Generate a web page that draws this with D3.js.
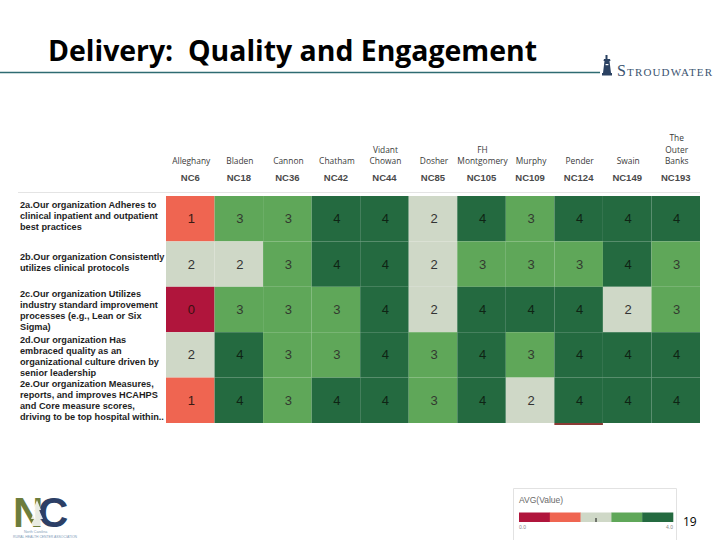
<!DOCTYPE html>
<html>
<head>
<meta charset="utf-8">
<script src="https://cdn.jsdelivr.net/npm/d3@7"></script>
<style>
  html, body { margin: 0; padding: 0; background: #ffffff; }
  svg { display: block; }
</style>
</head>
<body>
<svg id="chart" width="720" height="540"></svg>
<script>
// ---------- DATA ----------
const hospitalNames = [["Alleghany"], ["Bladen"], ["Cannon"], ["Chatham"], ["Vidant", "Chowan"],
  ["Dosher"], ["FH", "Montgomery"], ["Murphy"], ["Pender"], ["Swain"], ["The", "Outer", "Banks"]];
const hospitalCodes = ["NC6", "NC18", "NC36", "NC42", "NC44", "NC85", "NC105", "NC109", "NC124", "NC149", "NC193"];
const questionIds = ["2a", "2b", "2c", "2d", "2e"];
const questionLabels = [
  ["2a.Our organization Adheres to", "clinical inpatient and outpatient", "best practices"],
  ["2b.Our organization Consistently", "utilizes clinical protocols"],
  ["2c.Our organization Utilizes", "industry standard improvement", "processes (e.g., Lean or Six", "Sigma)"],
  ["2d.Our organization Has", "embraced quality as an", "organizational culture driven by", "senior leadership"],
  ["2e.Our organization Measures,", "reports, and improves HCAHPS", "and Core measure scores,", "driving to be top hospital within.."]
];
const values2a = [1, 3, 3, 4, 4, 2, 4, 3, 4, 4, 4];
const values2b = [2, 2, 3, 4, 4, 2, 3, 3, 3, 4, 3];
const values2c = [0, 3, 3, 3, 4, 2, 4, 4, 4, 2, 3];
const values2d = [2, 4, 3, 3, 4, 3, 4, 3, 4, 4, 4];
const values2e = [1, 4, 3, 4, 4, 3, 4, 2, 4, 4, 4];
const legendLevels = [0, 1, 2, 3, 4];
const legendTickLabels = ["0.0", "4.0"];
const titleText = "Delivery:  Quality and Engagement";
const pageNumber = "19";

// ---------- BUILD ----------
const allValues = [values2a, values2b, values2c, values2d, values2e];
const cells = [];
questionIds.forEach((q, i) => {
  allValues[i].forEach((v, j) => cells.push({ q, code: hospitalCodes[j], v }));
});

const svg = d3.select("#chart");

const color = d3.scaleOrdinal()
  .domain(legendLevels)
  .range(["#b0153c", "#ef6551", "#cfd8c7", "#5fa759", "#246a40"]);
const textColor = d3.scaleOrdinal()
  .domain(legendLevels)
  .range(["#3a1010", "#3a1a14", "#333333", "#333a30", "#0e2414"]);

const x = d3.scaleBand().domain(hospitalCodes).range([166, 700]).padding(0);
const y = d3.scaleBand().domain(questionIds).range([196, 423]).padding(0);

// Title
svg.append("text")
  .attr("x", 48).attr("y", 61)
  .attr("font-family", "'Open Sans', 'DejaVu Sans', sans-serif")
  .attr("font-weight", 700)
  .attr("font-size", 28)
  .attr("textLength", 489)
  .attr("lengthAdjust", "spacingAndGlyphs")
  .style("white-space", "pre")
  .attr("fill", "#000")
  .text(titleText);

svg.append("line")
  .attr("x1", 0).attr("x2", 600).attr("y1", 72.5).attr("y2", 72.5)
  .attr("stroke", "#2e6b72").attr("stroke-width", 1.3);

// Stroudwater logo
const sw = svg.append("g").attr("transform", "translate(602,55)");
sw.append("rect").attr("x", 3.5).attr("y", 0).attr("width", 2).attr("height", 4).attr("fill", "#2b4262");
sw.append("path").attr("d", "M2,4 L8,4 L8.5,6 L1.5,6 Z").attr("fill", "#2b4262");
sw.append("path").attr("d", "M2.5,6 L7.5,6 L9,18 L1,18 Z").attr("fill", "#2b4262");
sw.append("rect").attr("x", 0).attr("y", 18).attr("width", 10).attr("height", 2.5).attr("fill", "#2b4262");
sw.append("rect").attr("x", 3.6).attr("y", 9).attr("width", 2.8).attr("height", 1.2).attr("fill", "#ffffff");
svg.append("text")
  .attr("x", 617).attr("y", 76)
  .attr("font-family", "'Liberation Serif', 'DejaVu Serif', serif")
  .attr("fill", "#3b5470")
  .attr("textLength", 95)
  .attr("lengthAdjust", "spacing")
  .html('<tspan font-size="16">S</tspan><tspan font-size="11">TROUDWATER</tspan>');

// Header separator
svg.append("line")
  .attr("x1", 18).attr("x2", 700).attr("y1", 192.5).attr("y2", 192.5)
  .attr("stroke", "#e4e4e4").attr("stroke-width", 1);

// Column headers
const hdr = svg.append("g").selectAll("g.col")
  .data(hospitalCodes).enter().append("g")
  .attr("transform", d => `translate(${x(d) + x.bandwidth() / 2},0)`);
hdr.each(function (code, i) {
  const g = d3.select(this);
  const lines = hospitalNames[i];
  lines.forEach((ln, k) => {
    g.append("text")
      .attr("x", 1).attr("y", 164 - (lines.length - 1 - k) * 11.5)
      .attr("text-anchor", "middle")
      .attr("font-family", "'Open Sans', 'DejaVu Sans', sans-serif")
      .attr("font-size", 8.4)
      .attr("fill", "#3a3a3a")
      .text(ln);
  });
  g.append("text")
    .attr("x", 0).attr("y", 180.5)
    .attr("text-anchor", "middle")
    .attr("font-family", "'Liberation Sans', Arial, sans-serif")
    .attr("font-weight", 700)
    .attr("font-size", 9.5)
    .attr("fill", "#4a4a4a")
    .text(code);
});

// Row labels
const rowLineY = [[204, 216, 227], [256, 268], [293, 304, 315, 326], [339, 350, 361, 372], [383, 394, 406, 417]];
questionIds.forEach((q, i) => {
  const yc = y(q);
  const top = rowLineY[i][0] - yc;
  questionLabels[i].forEach((ln, k) => {
    svg.append("text")
      .attr("x", 20)
      .attr("y", yc + top + k * 11.3 + 3.5)
      .attr("font-family", "'Liberation Sans', Arial, sans-serif")
      .attr("font-weight", 700)
      .attr("font-size", 9.2)
      .attr("fill", "#1e1e1e")
      .text(ln);
  });
});

// Cells
svg.append("g").selectAll("rect")
  .data(cells).enter().append("rect")
  .attr("x", d => x(d.code))
  .attr("y", d => y(d.q))
  .attr("width", x.bandwidth())
  .attr("height", y.bandwidth())
  .attr("fill", d => color(d.v));

svg.append("g").selectAll("text")
  .data(cells).enter().append("text")
  .attr("x", d => x(d.code) + x.bandwidth() / 2 + 1)
  .attr("y", d => y(d.q) + y.bandwidth() / 2 + 4.5)
  .attr("text-anchor", "middle")
  .attr("font-family", "'Liberation Sans', Arial, sans-serif")
  .attr("font-size", 13)
  .attr("fill", d => textColor(d.v))
  .text(d => d.v);

// small artifact strip under Pender column
svg.append("rect")
  .attr("x", x("NC124")).attr("y", 423).attr("width", x.bandwidth()).attr("height", 2)
  .attr("fill", "#8a3b35");

// Legend
const lg = svg.append("g");
lg.append("path")
  .attr("d", "M513.5,540 L513.5,488.5 L676.5,488.5 L676.5,540")
  .attr("fill", "none").attr("stroke", "#e2e2e2");
lg.append("text")
  .attr("x", 519).attr("y", 503)
  .attr("font-family", "'Liberation Sans', Arial, sans-serif")
  .attr("font-size", 8.5)
  .attr("fill", "#6a6a6a")
  .text("AVG(Value)");
const lx = d3.scaleBand().domain(legendLevels).range([519, 673]);
lg.selectAll("rect.seg").data(legendLevels).enter().append("rect")
  .attr("x", d => lx(d)).attr("y", 512.5)
  .attr("width", lx.bandwidth() + 0.3).attr("height", 9.5)
  .attr("fill", d => color(d));
lg.append("line")
  .attr("x1", lx(2) + lx.bandwidth() / 2).attr("x2", lx(2) + lx.bandwidth() / 2)
  .attr("y1", 518).attr("y2", 522).attr("stroke", "#111").attr("stroke-width", 1);
lg.append("text").attr("x", 519).attr("y", 529)
  .attr("font-family", "'Liberation Sans', Arial, sans-serif")
  .attr("font-size", 5).attr("fill", "#888").text(legendTickLabels[0]);
lg.append("text").attr("x", 673).attr("y", 529).attr("text-anchor", "end")
  .attr("font-family", "'Liberation Sans', Arial, sans-serif")
  .attr("font-size", 5).attr("fill", "#888").text(legendTickLabels[1]);

svg.append("text")
  .attr("x", 683).attr("y", 526)
  .attr("font-family", "'Open Sans', 'DejaVu Sans', sans-serif")
  .attr("font-size", 12)
  .attr("fill", "#000")
  .text(pageNumber);

// NC logo
const nc = svg.append("g");
nc.append("text")
  .attr("x", 13).attr("y", 527)
  .attr("font-family", "'Liberation Sans', Arial, sans-serif")
  .attr("font-weight", 700)
  .attr("font-size", 42)
  .attr("letter-spacing", -3)
  .attr("fill", "#6d7d3c")
  .text("N");
nc.append("text")
  .attr("x", 38).attr("y", 527)
  .attr("font-family", "'Liberation Sans', Arial, sans-serif")
  .attr("font-weight", 700)
  .attr("font-size", 42)
  .attr("fill", "#2c3f66")
  .text("C");
nc.append("path")
  .attr("d", "M37,500 L41,510 L39,510 L43,519 L40,519 L44,526 L30,526 L34,519 L31,519 L35,510 L33,510 Z")
  .attr("fill", "#ffffff").attr("opacity", 0.85);
nc.append("text")
  .attr("x", 24).attr("y", 532.5)
  .attr("font-family", "'Liberation Sans', Arial, sans-serif")
  .attr("font-size", 3.6).attr("fill", "#7f9bb8")
  .text("North Carolina");
nc.append("text")
  .attr("x", 13).attr("y", 537.5)
  .attr("font-family", "'Liberation Sans', Arial, sans-serif")
  .attr("font-size", 3.4).attr("fill", "#7f9bb8")
  .text("RURAL HEALTH CENTER ASSOCIATION");
</script>
</body>
</html>
